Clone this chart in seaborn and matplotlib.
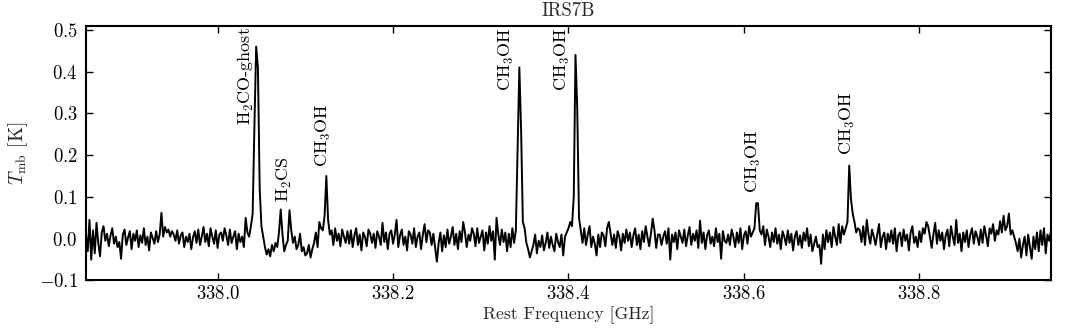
import numpy as np
import pandas as pd
import matplotlib
matplotlib.use("Agg")
import matplotlib.pyplot as plt
import seaborn as sns

# ---- data -------------------------------------------------------------
freq_start_ghz = 337.850      # first channel
chan_width_ghz = 0.002        # channel spacing

# main-beam temperature per channel, in mK
tmb_mK = [
    # 337.850 - 337.948
    10, -30, 45, -50, 20, -35, 38, -10, -42, 15,
    30, -5, 12, -18, 8, 25, -12, 5, -20, -8,
    -48, 10, 22, -15, 3, 18, -25, 12, -5, 20,
    -20, 8, -10, 25, -15, 5, -28, 15, 2, -12,
    18, -8, 10, 62, 5, 28, 15, 22, 5, 18,
    # 337.950 - 338.048
    10, -5, 20, -12, 8, 15, -20, 5, -8, 12,
    -25, 3, 18, -10, 22, -15, 5, 28, -8, 12,
    -18, 25, 5, -12, 20, -22, 10, 15, -5, 25,
    8, -15, 22, -10, 5, 18, -25, 12, -8, 5,
    -20, 50, 15, 5, 30, 60, 270, 460, 410, 120,
    # 338.050 - 338.148
    30, 5, -20, -38, -25, -42, -15, -30, -10, -20,
    15, 70, 10, -30, -15, -5, 68, 20, -10, 5,
    -25, -15, 12, -30, -20, -40, -35, -15, -45, -25,
    -10, 15, -20, 40, 25, 20, 55, 150, 45, 10,
    20, -15, 25, -5, 12, -18, 22, 5, -10, 18,
    # 338.150 - 338.248
    -12, 20, -20, 8, 25, -15, 10, -28, 15, 5,
    -18, 22, 12, -10, 12, -22, 18, 5, -15, 38,
    -8, 15, -25, 12, 20, -12, 10, 45, -20, 8,
    22, -15, 5, -28, 18, 10, -12, 25, -20, 5,
    15, -25, 10, 35, -8, 20, 15, -15, 12, -22,
    # 338.250 - 338.348
    -55, -10, 15, -30, 8, -20, 22, -12, 5, 28,
    -15, 12, -25, 18, -8, 40, 15, -20, 10, -5,
    25, 12, -18, 25, -10, 5, 20, -28, 15, -12,
    30, -5, 18, -50, 50, 10, -15, 22, -8, 15,
    -30, 12, -20, 25, -10, 20, 220, 410, 260, 40,
    # 338.350 - 338.448
    25, -10, -25, -45, -30, -15, 10, -35, -5, -20,
    8, -28, -10, 15, -22, 5, -15, -30, 12, -8,
    -20, 10, -40, 5, 15, 25, 40, 30, 100, 440,
    310, 50, 20, -10, 25, -15, 10, 30, -20, 5,
    -12, -40, 10, -20, 15, 8, -18, 25, 40, 12,
    # 338.450 - 338.548
    -15, 10, -22, 18, 5, -28, 12, -10, 22, -5,
    15, -20, 8, 25, -15, 10, -25, 18, -8, 30,
    5, -18, 12, 48, 20, -22, 10, 10, -15, 5,
    18, -12, 25, -50, 10, -8, 15, -25, 20, 5,
    -10, 22, -18, 8, 28, -15, 12, -5, 20, -22,
    # 338.550 - 338.648
    43, -10, 15, -25, 8, 20, -12, 5, -18, 25,
    -8, 12, -48, 18, -5, -10, 10, -15, 22, 5,
    -20, 15, -10, 25, -25, 8, 18, -12, 30, 5,
    15, 25, 85, 85, 20, 10, 30, -15, 22, 5,
    -20, 15, -8, 25, -12, 10, -25, 18, 5, -15,
    # 338.650 - 338.748
    20, -10, 12, -28, 5, 18, -15, 8, -22, 15,
    -5, 25, -18, 10, -30, -12, 5, -20, -15, -60,
    10, -25, 20, -8, 15, -20, 28, 5, -15, 35,
    -10, 30, 10, 25, 40, 175, 95, 60, 40, 15,
    25, 20, -8, 30, -15, 45, 10, -12, 22, 5,
    # 338.750 - 338.848
    -15, 10, 35, -20, 5, 15, -25, 12, -8, 20,
    -12, 25, -30, 8, 15, -18, 22, -5, 10, -28,
    15, 30, -10, 5, -20, 18, -8, 25, 12, 40,
    30, 5, -22, 10, 38, -12, 20, -5, 15, -25,
    8, 22, -18, 30, 5, -15, 45, -10, 12, -30,
    # 338.850 - 338.950
    15, -8, 20, -20, 10, 25, -12, 18, 5, -15,
    22, -10, 30, 8, -18, 25, 12, 35, -5, 20,
    10, 42, 15, 55, 20, 30, 60, 10, 20, 5,
    -10, -30, 0, -45, -15, 5, -40, 10, -20, -48,
    5, -25, 15, -30, 20, -15, 25, -35, 10, -5,
    20,
]

line_names = ["H$_2$CO-ghost", "H$_2$CS", "CH$_3$OH", "CH$_3$OH",
              "CH$_3$OH", "CH$_3$OH", "CH$_3$OH"]
label_freq = [338.0327, 338.0760, 338.1205, 338.3290, 338.3930, 338.6104, 338.7175]
label_tmb = [0.272, 0.088, 0.172, 0.354, 0.354, 0.109, 0.200]

xticks = [338.0, 338.2, 338.4, 338.6, 338.8]
yticks = [-0.1, 0.0, 0.1, 0.2, 0.3, 0.4, 0.5]

# ---- build frame --------------------------------------------------------
tmb = np.array(tmb_mK, dtype=float) / 1000.0
freq = freq_start_ghz + chan_width_ghz * np.arange(len(tmb))
df = pd.DataFrame({"freq": freq, "tmb": tmb})

# ---- style --------------------------------------------------------------
sns.set_style("ticks")
plt.rcParams.update({
    "font.family": "serif",
    "font.serif": ["cmr10", "DejaVu Serif"],
    "mathtext.fontset": "cm",
    "axes.formatter.use_mathtext": True,
    "xtick.direction": "in",
    "ytick.direction": "in",
    "xtick.top": True,
    "ytick.right": True,
    "xtick.major.size": 5,
    "ytick.major.size": 5,
    "xtick.major.width": 1.0,
    "ytick.major.width": 1.0,
    "axes.linewidth": 1.5,
    "axes.edgecolor": "black",
})

fig = plt.figure(figsize=(10.72, 3.31), dpi=100)
ax = fig.add_axes([0.0802, 0.1526, 0.9002, 0.7698])

sns.lineplot(data=df, x="freq", y="tmb", ax=ax, color="black",
             linewidth=1.4, estimator=None, sort=False)

for name, fx, fy in zip(line_names, label_freq, label_tmb):
    ax.text(fx, fy, name, rotation=90, ha="center", va="bottom",
            fontsize=13, color="black")

ax.set_xlim(337.85, 338.95)
ax.set_ylim(-0.1, 0.51)
ax.set_xticks(xticks)
ax.set_yticks(yticks)
ax.set_xticklabels([f"${v:.1f}$" for v in xticks])
ax.set_yticklabels([f"${v:.1f}$" for v in yticks])
ax.tick_params(labelsize=13.5, colors="black")
ax.tick_params(axis="x", pad=3.5)
ax.tick_params(axis="y", pad=6)
ax.set_xlabel("Rest Frequency [GHz]", fontsize=12.7, labelpad=2)
ax.set_ylabel(r"$T_{\rm mb}$ [K]", fontsize=14, labelpad=6)
ax.set_title("IRS7B", fontsize=13.5, pad=7)

fig.savefig("out.png", dpi=100)
